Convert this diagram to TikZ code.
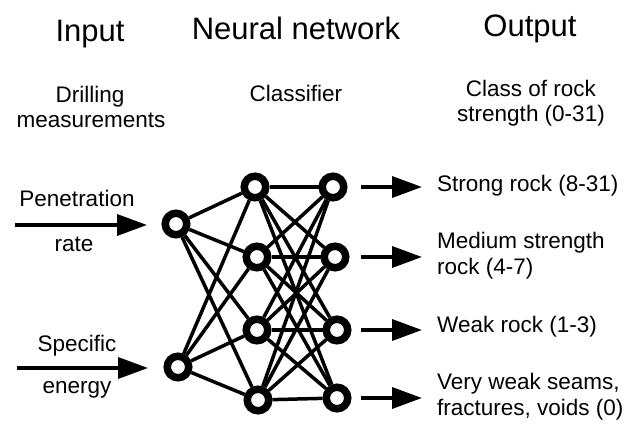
\documentclass[tikz,border=0pt]{standalone}
\usepackage{fontspec}
\setmainfont{Liberation Sans}
\usetikzlibrary{arrows.meta}
\begin{document}
\begin{tikzpicture}[x=1pt,y=-1pt,
  head/.style={anchor=base,inner sep=0pt,font=\fontsize{31}{31}\selectfont},
  lbl/.style={anchor=base,inner sep=0pt,font=\fontsize{22.5}{26}\selectfont},
  outlbl/.style={anchor=base west,inner sep=0pt,font=\fontsize{22.5}{26}\selectfont},
  neuron/.style={circle,draw=black,fill=white,line width=7.5pt,minimum size=21.5pt,inner sep=0pt},
  link/.style={line width=3.5pt},
  flow/.style={line width=3.5pt,-{Triangle[length=30pt,width=21pt]}}]
\useasboundingbox (0,0) rectangle (640,427);
% headings
\node[head] (hin) at (90,42) {Input};
\node[head] (hnn) at (296,40) {Neural network};
\node[head] (hout) at (530,37) {Output};
\node[lbl] (d1) at (90,103) {Drilling};
\node[lbl] (d2) at (91,128) {measurements};
\node[lbl] (cl) at (296,102) {Classifier};
\node[lbl] (c1) at (531,97) {Class of rock};
\node[lbl] (c2) at (531,122) {strength (0-31)};
% input labels
\node[lbl] (p1) at (77,207) {Penetration};
\node[lbl] (p2) at (74,252) {rate};
\node[lbl] (s1) at (77,352) {Specific};
\node[lbl] (s2) at (77,394) {energy};
% output labels
\node[outlbl] (o1l) at (437,192) {Strong rock (8-31)};
\node[outlbl] (o2l) at (437,249) {Medium strength};
\node[outlbl] (o2m) at (437,275) {rock (4-7)};
\node[outlbl] (o3l) at (437,333) {Weak rock (1-3)};
\node[outlbl] (o4l) at (437,390) {Very weak seams,};
\node[outlbl] (o4m) at (437,416) {fractures, voids (0)};
% neurons
\node[neuron] (i1) at (176,224) {};
\node[neuron] (i2) at (178,367) {};
\node[neuron] (a1) at (255,187) {};
\node[neuron] (a2) at (257,257) {};
\node[neuron] (a3) at (257,330) {};
\node[neuron] (a4) at (258,400) {};
\node[neuron] (b1) at (333,187) {};
\node[neuron] (b2) at (335,257) {};
\node[neuron] (b3) at (337,330) {};
\node[neuron] (b4) at (337,398) {};
% links
\foreach \i in {i1,i2}{
  \foreach \a in {a1,a2,a3,a4}{\draw[link] (\i) -- (\a);}}
\foreach \a in {a1,a2,a3,a4}{
  \foreach \b in {b1,b2,b3,b4}{\draw[link] (\a) -- (\b);}}
% input arrows
\coordinate (is1) at (15,225);
\coordinate (is2) at (17,368);
\coordinate (ie1) at (147,225);
\coordinate (ie2) at (148,368);
\draw[flow] (is1) -- (ie1);
\draw[flow] (is2) -- (ie2);
% output arrows
\coordinate (ax) at (361,0);
\coordinate (tx) at (422,0);
\draw[flow] (b1 -| ax) -- (b1 -| tx);
\draw[flow] (b2 -| ax) -- (b2 -| tx);
\draw[flow] (b3 -| ax) -- (b3 -| tx);
\draw[flow] (b4 -| ax) -- (b4 -| tx);
\end{tikzpicture}
\end{document}
